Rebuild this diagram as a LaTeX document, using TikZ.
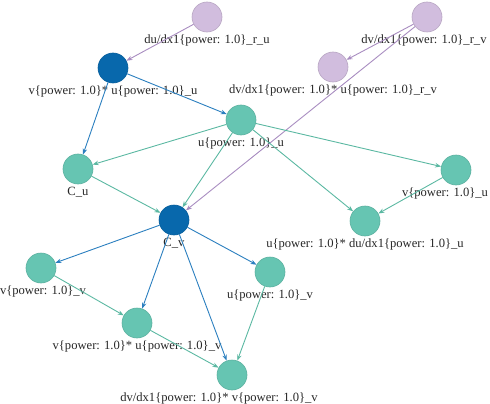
\documentclass[tikz,border=0pt]{standalone}
\usepackage{fontspec}
\setmainfont{Liberation Serif}
\usetikzlibrary{arrows.meta}
\definecolor{nodeblue}{HTML}{0868AC}
\definecolor{nodeteal}{HTML}{66C5B2}
\definecolor{nodelilac}{HTML}{D1BDDE}
\definecolor{edgeblue}{HTML}{2B7FBF}
\definecolor{edgeteal}{HTML}{5BB8A2}
\definecolor{edgelilac}{HTML}{A88CC0}
\begin{document}
\begin{tikzpicture}[x=1pt,y=-1pt,
    vtx/.style={circle,minimum size=30pt,inner sep=0pt,line width=0.6pt},
    blue/.style={vtx,fill=nodeblue,draw=nodeblue!90!black},
    teal/.style={vtx,fill=nodeteal,draw=nodeteal!90!black},
    lilac/.style={vtx,fill=nodelilac,draw=nodelilac!88!black},
    every label/.style={draw=none,fill=none,inner sep=1pt,text=black!85,
      font=\fontsize{12.6}{15}\selectfont},
    label distance=1.5pt,
    edge/.style={line width=0.9pt,-{Stealth[length=6pt,width=4.5pt]}}]
      \useasboundingbox (0,0) rectangle (490,404);
      \draw
        (207,17) node[lilac,label=below:{du/dx1\{power: 1.0\}\_r\_u}] (dur){}
        (427,17) node[lilac,label={[xshift=-3pt]below:{dv/dx1\{power: 1.0\}\_r\_v}}] (dvr){}
        (113,68) node[blue,label=below:{v\{power: 1.0\}* u\{power: 1.0\}\_u}] (vuu){}
        (333,67) node[lilac,label=below:{dv/dx1\{power: 1.0\}* u\{power: 1.0\}\_r\_v}] (dvur){}
        (241,120) node[teal,label=below:{u\{power: 1.0\}\_u}] (uu){}
        (78,169) node[teal,label=below:{C\_u}] (cu){}
        (174,220) node[blue,label=below:{C\_v}] (cv){}
        (456,170) node[teal,label={[xshift=-11pt]below:{v\{power: 1.0\}\_u}}] (vu){}
        (365,221) node[teal,label=below:{u\{power: 1.0\}* du/dx1\{power: 1.0\}\_u}] (udu){}
        (41,268) node[teal,label={[xshift=2pt]below:{v\{power: 1.0\}\_v}}] (vv){}
        (270,272) node[teal,label=below:{u\{power: 1.0\}\_v}] (uv){}
        (137,323) node[teal,label=below:{v\{power: 1.0\}* u\{power: 1.0\}\_v}] (vuv){}
        (232,375) node[teal,label={[xshift=-13pt]below:{dv/dx1\{power: 1.0\}* v\{power: 1.0\}\_v}}] (dvv){};
      \begin{scope}[edge,edgelilac]
        \draw (dur) to (vuu);
        \draw (dvr) to (dvur);
        \draw (dvr) to (cv);
      \end{scope}
      \begin{scope}[edge,edgeblue]
        \draw (vuu) to (uu);
        \draw (vuu) to (cu);
        \draw (cv) to (vv);
        \draw (cv) to (vuv);
        \draw (cv) to (uv);
        \draw (cv) to (dvv);
      \end{scope}
      \begin{scope}[edge,edgeteal]
        \draw (uu) to (cu);
        \draw (uu) to (cv);
        \draw (uu) to (vu);
        \draw (uu) to (udu);
        \draw (vu) to (udu);
        \draw (cu) to (cv);
        \draw (vv) to (vuv);
        \draw (vuv) to (dvv);
        \draw (uv) to (dvv);
      \end{scope}
    \end{tikzpicture}
\end{document}
